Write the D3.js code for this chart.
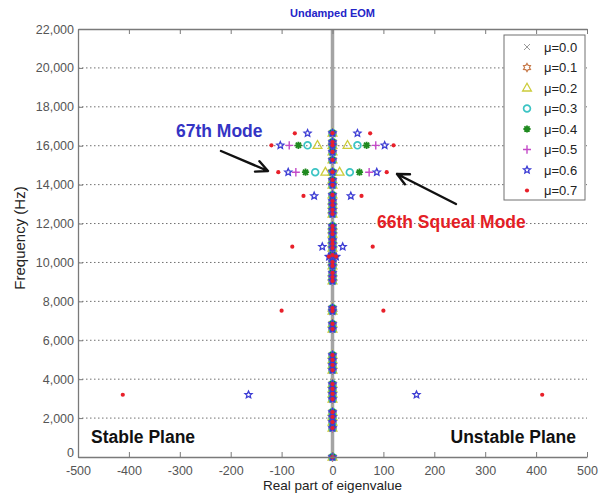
<!DOCTYPE html>
<html>
<head>
<meta charset="utf-8">
<script src="https://cdn.jsdelivr.net/npm/d3@7"></script>
<style>
  body { margin: 0; background: #fff; }
  svg { display: block; font-family: "Liberation Sans", Arial, sans-serif; }
</style>
</head>
<body>
<svg id="chart" width="610" height="498"></svg>
<script>
// Friction coefficient series
const muLabels  = ["μ=0.0", "μ=0.1", "μ=0.2", "μ=0.3", "μ=0.4", "μ=0.5", "μ=0.6", "μ=0.7"];
const muColors  = ["#9a9a9a", "#c77a4a", "#cccc3a", "#3cc4c4", "#1f8a1f", "#c44ac8", "#3c3cd4", "#e8202a"];
const muMarkers = ["x", "hexagram", "triangle", "circle", "asterisk", "plus", "pentagram", "dot"];

// Eigen-frequencies (Hz) that stay on the imaginary axis for every μ
const axisFreqs = [16650, 16190, 16020, 15680, 15270, 14650, 14240, 13980, 13470, 13160,
                   12950, 12700, 12490, 11870, 11670, 11460, 11150, 10950, 10740, 10380,
                   10020, 9820, 9460, 9250, 9050, 7660, 7500, 6840, 6580, 5240,
                   4990, 4730, 4470, 3750, 3500, 3240, 2980, 2310, 2060, 1800, 1490, 0];

// Coupled mode pairs: real part (±) per μ
const coupledFreqs = [16020, 14640];
const realUpperPair = [0, 0, 29.5, 49, 67, 85, 102.5, 120];
const realLowerPair = [0, 0, 14, 34, 53, 72, 87, 106.5];

// Further unstable/stable pairs appearing at high μ
const mu06Freqs = [16640, 13420, 10810, 10300, 3200];
const mu06Reals = [49, 36, 20, 7, 165];
const mu07Freqs = [16640, 13420, 10810, 10300, 7520, 3200];
const mu07Reals = [74, 57, 79, 7, 100, 412];

const xTicks = [-500, -400, -300, -200, -100, 0, 100, 200, 300, 400, 500];
const yTicks = [0, 2000, 4000, 6000, 8000, 10000, 12000, 14000, 16000, 18000, 20000, 22000];

const svg = d3.select("#chart");
const L = 78, R = 587, T = 29, B = 457;
const x = d3.scaleLinear().domain([-500, 500]).range([L, R]);
const y = d3.scaleLinear().domain([0, 22000]).range([B, T]);

// assemble points for each series
function pairPoints(freqs, reals) {
  const out = [];
  freqs.forEach((f, k) => {
    const r = reals[k];
    if (r === 0) out.push({ re: 0, f });
    else { out.push({ re: -r, f }); out.push({ re: r, f }); }
  });
  return out;
}
const series = muLabels.map((label, i) => {
  let pts = axisFreqs.map(f => ({ re: 0, f }));
  pts = pts.concat(pairPoints(coupledFreqs, [realUpperPair[i], realLowerPair[i]]));
  if (i === 6) pts = pts.concat(pairPoints(mu06Freqs, mu06Reals));
  if (i === 7) pts = pts.concat(pairPoints(mu07Freqs, mu07Reals));
  return { label, color: muColors[i], marker: muMarkers[i], pts };
});

// marker shapes
function starPath(n, ro, ri) {
  const p = [];
  for (let k = 0; k < 2 * n; k++) {
    const a = -Math.PI / 2 + k * Math.PI / n;
    const r = k % 2 === 0 ? ro : ri;
    p.push([r * Math.cos(a), r * Math.sin(a)]);
  }
  return "M" + p.map(q => q[0].toFixed(2) + "," + q[1].toFixed(2)).join("L") + "Z";
}
function circlePath(r) {
  const p = d3.path();
  p.arc(0, 0, r, 0, 2 * Math.PI);
  return p.toString();
}
const markerDefs = {
  x:         { d: "M-3,-3L3,3M-3,3L3,-3", filled: false, w: 1 },
  hexagram:  { d: starPath(6, 4.0, 2.4), filled: false, w: 1.2 },
  triangle:  { d: "M0,-4.8L4.4,3L-4.4,3Z", filled: false, w: 1.3 },
  circle:    { d: circlePath(3.4), filled: false, w: 1.7 },
  asterisk:  { d: "M-3.6,0L3.6,0M0,-3.6L0,3.6M-2.6,-2.6L2.6,2.6M-2.6,2.6L2.6,-2.6", filled: false, w: 1.8 },
  plus:      { d: "M-4,0L4,0M0,-4.2L0,4.2", filled: false, w: 1.4 },
  pentagram: { d: starPath(5, 3.7, 1.7), filled: false, w: 1.3 },
  dot:       { d: circlePath(2.1), filled: true, w: 0 }
};
function drawMarker(g, s, cx, cy) {
  const m = markerDefs[s.marker];
  g.append("path")
    .attr("d", m.d)
    .attr("transform", `translate(${cx},${cy})`)
    .attr("fill", m.filled ? s.color : "none")
    .attr("stroke", m.filled ? "none" : s.color)
    .attr("stroke-width", m.w);
}

// title
svg.append("text").attr("x", x(0)).attr("y", 17)
  .attr("text-anchor", "middle").attr("font-size", 11).attr("font-weight", "bold")
  .attr("fill", "#2424c8").text("Undamped EOM");

// horizontal dotted grid
svg.append("g").selectAll("line")
  .data(yTicks.filter(v => v > 0 && v < 22000))
  .join("line")
  .attr("x1", L).attr("x2", R)
  .attr("y1", d => y(d)).attr("y2", d => y(d))
  .attr("stroke", "#707070").attr("stroke-width", 1)
  .attr("stroke-dasharray", "1.5,2.5");

// imaginary axis line
svg.append("line")
  .attr("x1", x(0)).attr("x2", x(0)).attr("y1", T).attr("y2", B)
  .attr("stroke", "#a4a4a4").attr("stroke-width", 3.5);

// data markers
const gPts = svg.append("g");
series.forEach(s => s.pts.forEach(p => drawMarker(gPts, s, x(p.re), y(p.f))));

// axes
const axisStyle = g => {
  g.selectAll(".domain").attr("stroke", "#7a7a7a").attr("stroke-width", 1.3);
  g.selectAll(".tick line").attr("stroke", "#7a7a7a").attr("stroke-width", 1);
  g.selectAll(".tick text").attr("fill", "#555").attr("font-size", 12.5)
    .attr("font-family", "'Liberation Sans', Arial, sans-serif");
};
svg.append("g").attr("transform", `translate(0,${B})`)
  .call(d3.axisBottom(x).tickValues(xTicks).tickSizeInner(-5).tickSizeOuter(0).tickPadding(9)
        .tickFormat(d => String(d)))
  .call(axisStyle);
svg.append("g").attr("transform", `translate(0,${T})`)
  .call(d3.axisTop(x).tickValues(xTicks).tickSizeInner(-5).tickSizeOuter(0).tickFormat(""))
  .call(axisStyle);
const yAxisG = svg.append("g").attr("transform", `translate(${L},0)`)
  .call(d3.axisLeft(y).tickValues(yTicks).tickSizeInner(-5).tickSizeOuter(0).tickPadding(4)
        .tickFormat(d3.format(",")))
  .call(axisStyle);
// lift the zero label so it clears the first x tick label
yAxisG.selectAll(".tick text").filter(d => d === 0).attr("dy", "-0.05em");

// axis titles
svg.append("text").attr("x", x(0)).attr("y", 490)
  .attr("text-anchor", "middle").attr("font-size", 13.5).attr("fill", "#222")
  .text("Real part of eigenvalue");
svg.append("text")
  .attr("transform", "translate(25,238) rotate(-90)")
  .attr("text-anchor", "middle").attr("font-size", 15).attr("fill", "#222")
  .text("Frequency (Hz)");

// legend
const lg = svg.append("g");
lg.append("rect").attr("x", 504).attr("y", 35).attr("width", 81).attr("height", 165)
  .attr("fill", "#fff").attr("stroke", "#707070").attr("stroke-width", 1);
series.forEach((s, i) => {
  const cy = 47 + i * 20.5;
  drawMarker(lg, s, 527, cy);
  lg.append("text").attr("x", 544).attr("y", cy + 4.5)
    .attr("font-size", 13).attr("fill", "#222").text(s.label);
});

// annotations
function arrow(x1, y1, x2, y2) {
  const a = Math.atan2(y2 - y1, x2 - x1), h = 13, sp = 0.45;
  const p = d3.path();
  p.moveTo(x1, y1); p.lineTo(x2, y2);
  p.moveTo(x2 - h * Math.cos(a - sp), y2 - h * Math.sin(a - sp));
  p.lineTo(x2, y2);
  p.lineTo(x2 - h * Math.cos(a + sp), y2 - h * Math.sin(a + sp));
  svg.append("path").attr("d", p.toString()).attr("fill", "none")
    .attr("stroke", "#111").attr("stroke-width", 2.4)
    .attr("stroke-linecap", "round").attr("stroke-linejoin", "round");
}
arrow(221, 151, 268, 171);
arrow(456, 204, 397, 174);

svg.append("text").attr("x", 176).attr("y", 137)
  .attr("font-size", 17.5).attr("font-weight", "bold").attr("fill", "#3434c4")
  .text("67th Mode");
svg.append("text").attr("x", 377).attr("y", 228)
  .attr("font-size", 17.5).attr("font-weight", "bold").attr("fill", "#e41e26")
  .text("66th Squeal Mode");
svg.append("text").attr("x", 91).attr("y", 443)
  .attr("font-size", 17.5).attr("font-weight", "bold").attr("fill", "#111")
  .text("Stable Plane");
svg.append("text").attr("x", 576).attr("y", 443).attr("text-anchor", "end")
  .attr("font-size", 17.5).attr("font-weight", "bold").attr("fill", "#111")
  .text("Unstable Plane");
</script>
</body>
</html>
